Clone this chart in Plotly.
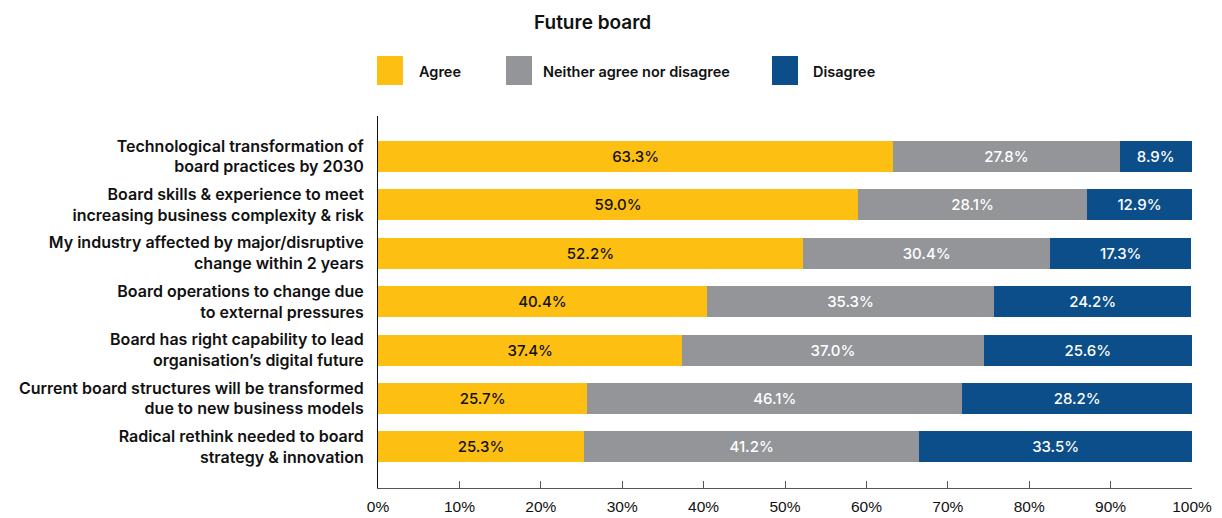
import plotly.graph_objects as go

# Survey statements (top to bottom)
statements = [
    "Technological transformation of<br>board practices by 2030",
    "Board skills & experience to meet<br>increasing business complexity & risk",
    "My industry affected by major/disruptive<br>change within 2 years",
    "Board operations to change due<br>to external pressures",
    "Board has right capability to lead<br>organisation’s digital future",
    "Current board structures will be transformed<br>due to new business models",
    "Radical rethink needed to board<br>strategy & innovation",
]

# Share of respondents (%)
agree = [63.3, 59.0, 52.2, 40.4, 37.4, 25.7, 25.3]
neither = [27.8, 28.1, 30.4, 35.3, 37.0, 46.1, 41.2]
disagree = [8.9, 12.9, 17.3, 24.2, 25.6, 28.2, 33.5]

series_names = ["Agree", "Neither agree nor disagree", "Disagree"]
x_ticks = [0, 10, 20, 30, 40, 50, 60, 70, 80, 90, 100]

COLORS = ["#FDBF12", "#939598", "#0B4E8A"]
LABEL_COLORS = ["#111111", "#FFFFFF", "#FFFFFF"]
FONT = "Inter, Roboto, sans-serif"

W, H = 1222, 518
L, R, T, B = 378, 30, 116, 30
PW, PH = W - L - R, H - T - B


def px_x(p):
    return (p - L) / PW


def px_y(p):
    return (H - B - p) / PH


fig = go.Figure()
for name, vals, col, lc in zip(series_names, [agree, neither, disagree], COLORS, LABEL_COLORS):
    fig.add_trace(go.Bar(
        y=statements,
        x=vals,
        name=name,
        orientation="h",
        marker=dict(color=col, line=dict(width=0)),
        text=vals,
        texttemplate="%{x:.1f}%",
        textposition="inside",
        insidetextanchor="middle",
        textfont=dict(family=FONT, size=15, color=lc, weight=500),
        showlegend=False,
        hoverinfo="skip",
    ))

# Legend swatches and labels
legend_items = [(377, 417), (506, 541), (772, 811)]
for (sx, tx), name, col in zip(legend_items, series_names, COLORS):
    fig.add_shape(type="rect", xref="paper", yref="paper",
                  x0=px_x(sx), x1=px_x(sx + 26), y0=px_y(85), y1=px_y(56),
                  fillcolor=col, line=dict(width=0))
    fig.add_annotation(text=name, xref="paper", yref="paper",
                       x=px_x(tx), y=px_y(71), xanchor="left", yanchor="middle",
                       showarrow=False,
                       font=dict(family=FONT, size=14.5, color="#111111", weight=600))

# Title
fig.add_annotation(text="Future board", xref="paper", yref="paper",
                   x=px_x(592), y=px_y(22), xanchor="center", yanchor="middle",
                   showarrow=False,
                   font=dict(family=FONT, size=19, color="#111111", weight=600))

fig.update_layout(
    width=W, height=H,
    margin=dict(l=L, r=R, t=T, b=B, pad=0, autoexpand=False),
    barmode="stack",
    bargap=0.36,
    plot_bgcolor="white",
    paper_bgcolor="white",
    xaxis=dict(
        range=[0, 100],
        tickvals=x_ticks,
        ticktext=[f"{v}%" for v in x_ticks],
        ticks="inside", ticklen=7, tickcolor="#555555", tickwidth=1,
        showline=True, linecolor="#555555", linewidth=1,
        showgrid=False, zeroline=False, automargin=False,
        tickfont=dict(family="Liberation Sans, Arial, sans-serif", size=15.5, color="#111111"),
        ticklabelstandoff=4,
    ),
    yaxis=dict(
        categoryorder="array",
        categoryarray=statements,
        range=[6.85, -0.836],
        showline=True, linecolor="#111111", linewidth=1,
        ticks="", showgrid=False, zeroline=False, automargin=False,
        tickfont=dict(family=FONT, size=16, color="#111111", weight=600),
        ticklabelstandoff=10,
    ),
)

fig.write_html("out.html")
